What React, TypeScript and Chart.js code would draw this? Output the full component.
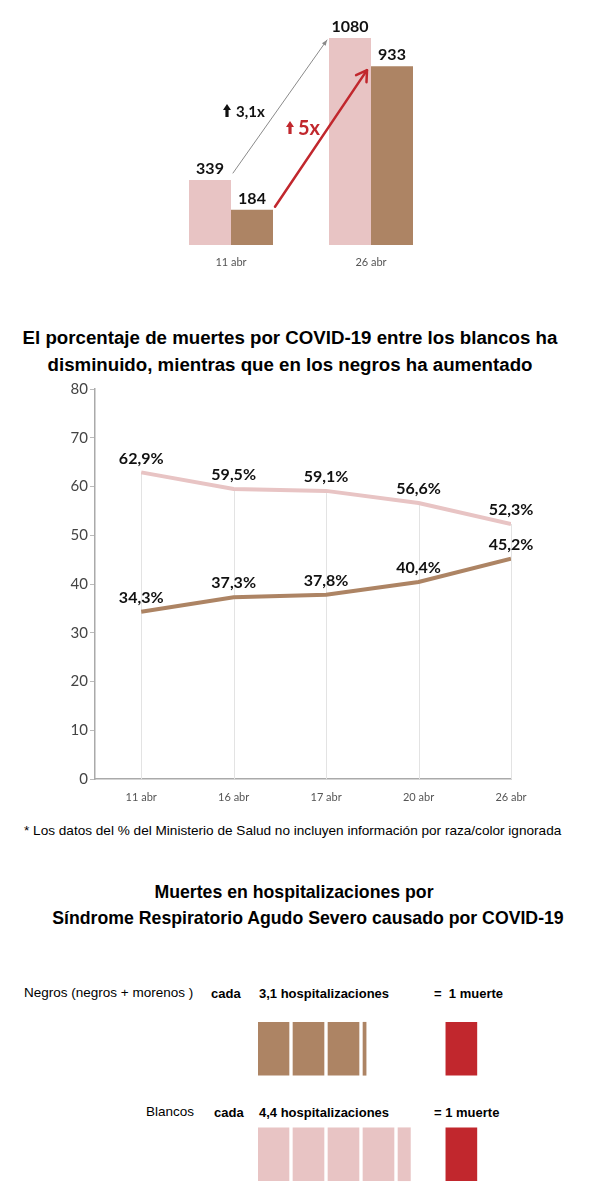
import React, { useEffect, useRef } from 'react';
import { Chart, registerables } from 'chart.js';

Chart.register(...registerables);
Chart.defaults.font.family = 'Lato, "Open Sans", sans-serif';

// ---------- data ----------
const barDates = ['11 abr', '26 abr'];
const barWhites = [339, 1080];
const barBlacks = [184, 933];
const growthLabels = ['3,1x', '5x'];

const lineDates = ['11 abr', '16 abr', '17 abr', '20 abr', '26 abr'];
const whitePct = [62.9, 59.5, 59.1, 56.6, 52.3];
const blackPct = [34.3, 37.3, 37.8, 40.4, 45.2];
const yTicks = [0, 10, 20, 30, 40, 50, 60, 70, 80];

const pictoGroups = ['Negros (negros + morenos )', 'Blancos'];
const hospPerDeath = [3.1, 4.4];
const deathsPerUnit = [1, 1];

// ---------- styles ----------
const PINK = '#e8c4c4';
const BROWN = '#ad8464';
const RED = '#c1272d';
const SANS = '"Liberation Sans", Arial, sans-serif';

const fmtDec = (v: number) => v.toFixed(1).replace('.', ',');

function upArrow(ctx: CanvasRenderingContext2D, cx: number, cy: number, h: number, w: number, color: string) {
  const headH = w * 0.75;
  const sw = w * 0.2;
  ctx.fillStyle = color;
  ctx.beginPath();
  ctx.moveTo(cx, cy - h / 2);
  ctx.lineTo(cx + w / 2, cy - h / 2 + headH);
  ctx.lineTo(cx + sw, cy - h / 2 + headH);
  ctx.lineTo(cx + sw, cy + h / 2);
  ctx.lineTo(cx - sw, cy + h / 2);
  ctx.lineTo(cx - sw, cy - h / 2 + headH);
  ctx.lineTo(cx - w / 2, cy - h / 2 + headH);
  ctx.closePath();
  ctx.fill();
}

function arrowLine(
  ctx: CanvasRenderingContext2D, x1: number, y1: number, x2: number, y2: number,
  color: string, width: number, head: number, filled: boolean
) {
  ctx.strokeStyle = color;
  ctx.fillStyle = color;
  ctx.lineWidth = width;
  ctx.lineCap = 'round';
  ctx.lineJoin = 'round';
  ctx.beginPath();
  ctx.moveTo(x1, y1);
  ctx.lineTo(x2, y2);
  ctx.stroke();
  const ang = Math.atan2(y2 - y1, x2 - x1);
  const a = filled ? 0.4 : 0.55;
  ctx.beginPath();
  ctx.moveTo(x2 - head * Math.cos(ang - a), y2 - head * Math.sin(ang - a));
  ctx.lineTo(x2, y2);
  ctx.lineTo(x2 - head * Math.cos(ang + a), y2 - head * Math.sin(ang + a));
  if (filled) {
    ctx.closePath();
    ctx.fill();
  } else {
    ctx.stroke();
  }
}

function BarChart() {
  const ref = useRef<HTMLCanvasElement>(null);
  useEffect(() => {
    const annotate = {
      id: 'annotate',
      afterDatasetsDraw(chart: any) {
        const ctx: CanvasRenderingContext2D = chart.ctx;
        const w = chart.getDatasetMeta(0).data;
        const b = chart.getDatasetMeta(1).data;
        ctx.save();
        ctx.font = 'bold 16px Lato';
        ctx.textAlign = 'center';
        ctx.textBaseline = 'bottom';
        ctx.fillStyle = '#111';
        [w, b].forEach((els: any[], d: number) => {
          els.forEach((el: any, i: number) => {
            const v = chart.data.datasets[d].data[i];
            ctx.fillText(String(v), el.x, el.y - 3);
          });
        });
        // grey arrow (whites)
        const g1x = w[0].x + w[0].width / 2 + 2, g1y = w[0].y - 7;
        const g2x = w[1].x - w[1].width / 2 - 2, g2y = w[1].y + 2;
        arrowLine(ctx, g1x, g1y, g2x, g2y, '#8a8a8a', 1, 6, true);
        // red arrow (blacks)
        const r1x = b[0].x + b[0].width / 2 + 2, r1y = b[0].y - 3;
        const r2x = b[1].x - b[1].width / 2 - 4, r2y = b[1].y + 4;
        arrowLine(ctx, r1x, r1y, r2x, r2y, RED, 2.5, 12, false);
        // growth labels
        const gmx = (g1x + g2x) / 2, gmy = (g1y + g2y) / 2;
        upArrow(ctx, gmx - 53, gmy + 4, 13, 8, '#111');
        ctx.textAlign = 'left';
        ctx.textBaseline = 'middle';
        ctx.font = 'bold 15px Lato';
        ctx.fillStyle = '#111';
        ctx.fillText(growthLabels[0], gmx - 44, gmy + 6);
        const rmx = (r1x + r2x) / 2, rmy = (r1y + r2y) / 2;
        upArrow(ctx, rmx - 31, rmy - 11, 13, 8, RED);
        ctx.font = 'bold 20px Lato';
        ctx.fillStyle = RED;
        ctx.fillText(growthLabels[1], rmx - 23, rmy - 10);
        ctx.restore();
      },
    };
    const chart = new Chart(ref.current as HTMLCanvasElement, {
      type: 'bar',
      data: {
        labels: barDates,
        datasets: [
          { data: barWhites, backgroundColor: PINK },
          { data: barBlacks, backgroundColor: BROWN },
        ],
      },
      options: {
        responsive: false,
        animation: false,
        layout: { padding: { left: 11, right: 9, top: 15, bottom: 0 } },
        plugins: { legend: { display: false }, tooltip: { enabled: false } },
        datasets: { bar: { categoryPercentage: 0.6, barPercentage: 1 } } as any,
        scales: {
          x: {
            grid: { display: false, drawTicks: false },
            border: { display: false },
            ticks: { font: { size: 11 }, color: '#555', padding: 11 },
            afterFit: (s: any) => { s.height = 35; },
          },
          y: { display: false, min: 0, max: 1200 },
        },
      },
      plugins: [annotate],
    });
    return () => chart.destroy();
  }, []);
  return (
    <canvas ref={ref} width={300} height={280}
      style={{ position: 'absolute', left: 150, top: 0, width: 300, height: 280 }} />
  );
}

function LineChart() {
  const ref = useRef<HTMLCanvasElement>(null);
  useEffect(() => {
    const dropLines = {
      id: 'dropLines',
      beforeDatasetsDraw(chart: any) {
        const ctx: CanvasRenderingContext2D = chart.ctx;
        const top = chart.getDatasetMeta(0).data;
        ctx.save();
        ctx.strokeStyle = '#e3e3e3';
        ctx.lineWidth = 1;
        top.forEach((el: any) => {
          ctx.beginPath();
          ctx.moveTo(Math.round(el.x) + 0.5, el.y);
          ctx.lineTo(Math.round(el.x) + 0.5, chart.chartArea.bottom);
          ctx.stroke();
        });
        ctx.restore();
      },
    };
    const labels = {
      id: 'labels',
      afterDatasetsDraw(chart: any) {
        const ctx: CanvasRenderingContext2D = chart.ctx;
        ctx.save();
        ctx.font = 'bold 16px Lato';
        ctx.textAlign = 'center';
        ctx.textBaseline = 'bottom';
        ctx.fillStyle = '#111';
        chart.data.datasets.forEach((ds: any, d: number) => {
          chart.getDatasetMeta(d).data.forEach((el: any, i: number) => {
            ctx.fillText(fmtDec(ds.data[i].y) + '%', el.x, el.y - 6);
          });
        });
        ctx.restore();
      },
    };
    const chart = new Chart(ref.current as HTMLCanvasElement, {
      type: 'line',
      data: {
        datasets: [
          {
            data: whitePct.map((v, i) => ({ x: i, y: v })),
            borderColor: PINK, borderWidth: 4, pointRadius: 0, tension: 0,
          },
          {
            data: blackPct.map((v, i) => ({ x: i, y: v })),
            borderColor: BROWN, borderWidth: 4, pointRadius: 0, tension: 0,
          },
        ],
      },
      options: {
        responsive: false,
        animation: false,
        layout: { padding: { top: 14, right: 69, left: 0, bottom: 0 } },
        plugins: { legend: { display: false }, tooltip: { enabled: false } },
        scales: {
          x: {
            type: 'linear',
            min: -0.5,
            max: lineDates.length - 1,
            afterBuildTicks: (s: any) => { s.ticks = lineDates.map((_, i) => ({ value: i })); },
            ticks: {
              callback: (v: any) => lineDates[v as number],
              font: { size: 11 }, color: '#555', padding: 12, autoSkip: false, maxRotation: 0,
            },
            grid: { display: false, drawTicks: false },
            border: { color: '#aaa', width: 1.5 },
            afterFit: (s: any) => { s.height = 31; },
          },
          y: {
            min: 0,
            max: 80,
            afterBuildTicks: (s: any) => { s.ticks = yTicks.map((v) => ({ value: v })); },
            ticks: { font: { size: 15 }, color: '#444', padding: 2 },
            grid: { drawOnChartArea: false, drawTicks: true, tickLength: 5, color: '#bbb' },
            border: { color: '#aaa', width: 1.5 },
            afterFit: (s: any) => { s.width = 55; },
          },
        },
      },
      plugins: [dropLines, labels],
    });
    return () => chart.destroy();
  }, []);
  return (
    <canvas ref={ref} width={540} height={435}
      style={{ position: 'absolute', left: 40, top: 375, width: 540, height: 435 }} />
  );
}

const ICON_STEP = 35 / 31;
const MAX_ICONS = 5;
const DEATH_POS = 6.06;

function PictoChart() {
  const ref = useRef<HTMLCanvasElement>(null);
  useEffect(() => {
    const colors = [BROWN, PINK];
    const datasets: any[] = [];
    for (let k = 0; k < MAX_ICONS; k++) {
      datasets.push({
        data: hospPerDeath.map((r) => (r > k ? [k * ICON_STEP, k * ICON_STEP + Math.min(1, r - k)] : null)),
        backgroundColor: colors,
      });
    }
    datasets.push({
      data: deathsPerUnit.map((n) => [DEATH_POS, DEATH_POS + n]),
      backgroundColor: RED,
    });
    const chart = new Chart(ref.current as HTMLCanvasElement, {
      type: 'bar',
      data: { labels: pictoGroups, datasets },
      options: {
        indexAxis: 'y',
        responsive: false,
        animation: false,
        layout: { padding: 0 },
        plugins: { legend: { display: false }, tooltip: { enabled: false } },
        datasets: { bar: { grouped: false, barThickness: 53 } } as any,
        scales: {
          x: { display: false, min: 0, max: 10 },
          y: { display: false },
        },
      },
    });
    return () => chart.destroy();
  }, []);
  return (
    <canvas ref={ref} width={310} height={211}
      style={{ position: 'absolute', left: 258, top: 996, width: 310, height: 211 }} />
  );
}

function T(props: {
  x: number; y: number; text: string; size: number; bold?: boolean;
  center?: boolean; color?: string;
}) {
  const lh = Math.round(props.size * 1.3);
  return (
    <div
      style={{
        position: 'absolute',
        left: props.x,
        top: props.y - lh / 2,
        lineHeight: lh + 'px',
        fontSize: props.size,
        fontFamily: SANS,
        fontWeight: props.bold ? 'bold' : 'normal',
        color: props.color || '#000',
        whiteSpace: 'pre',
        transform: props.center ? 'translateX(-50%)' : undefined,
      }}
    >
      {props.text}
    </div>
  );
}

export default function App() {
  const rowY = [993, 1112];
  const labelX = [24, 146];
  const cadaX = [211, 214];
  const eqText = ['=  1 muerte', '= 1 muerte'];
  return (
    <div style={{ position: 'fixed', left: 0, top: 0, width: 602, height: 1200, overflow: 'hidden', background: '#fff' }}>
      <BarChart />
      <T x={290} y={338} size={18.7} bold center
        text="El porcentaje de muertes por COVID-19 entre los blancos ha" />
      <T x={290} y={365} size={18.7} bold center
        text="disminuido, mientras que en los negros ha aumentado" />
      <LineChart />
      <T x={24} y={831} size={13.6}
        text="* Los datos del % del Ministerio de Salud no incluyen información por raza/color ignorada" />
      <T x={294} y={892} size={17.7} bold center text="Muertes en hospitalizaciones por" />
      <T x={308} y={918} size={17.7} bold center text="Síndrome Respiratorio Agudo Severo causado por COVID-19" />
      {pictoGroups.map((g, i) => (
        <React.Fragment key={g}>
          <T x={labelX[i]} y={rowY[i]} size={13.5} text={g} />
          <T x={cadaX[i]} y={rowY[i]} size={13} bold text="cada" />
          <T x={259} y={rowY[i]} size={13} bold text={fmtDec(hospPerDeath[i]) + ' hospitalizaciones'} />
          <T x={434} y={rowY[i]} size={13} bold text={eqText[i]} />
        </React.Fragment>
      ))}
      <PictoChart />
    </div>
  );
}
